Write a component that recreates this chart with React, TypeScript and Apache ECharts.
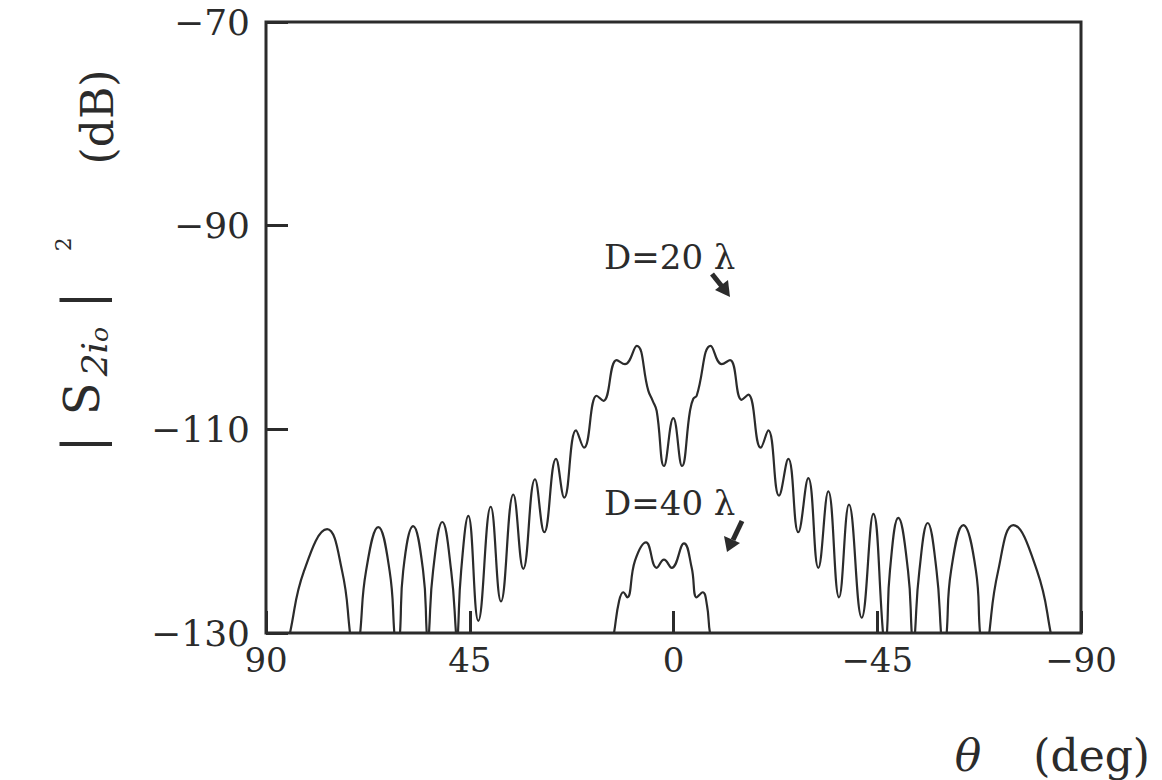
import React, { useEffect, useRef } from 'react';
import * as echarts from 'echarts';

const xTickValues = [90, 45, 0, -45, -90];
const yTickValues = [-70, -90, -110, -130];

// D = 20 lambda curve: angle (deg) and level (dB)
const d20Angle = [
  86.9, 84.7, 81.6, 76.5, 73.2, 71.45, 70.3, 69.2, 67.9, 65.2, 62.7, 61.66, 61.07, 60.4, 59.7, 57.5, 55.3, 54.5,
  54.25, 54.0, 53.1, 51.06, 49.1, 48.04, 47.8, 47.6, 46.9, 45.32, 43.11, 40.37, 38.1, 35.38, 33.17, 30.59, 28.53,
  25.95, 24.12, 21.53, 19.77, 16.96, 15.5, 12.54, 10.71, 8.13, 5.57, 4.59, 3.71, 2.1, 0.04, -1.88, -3.64, -4.37,
  -5.12, -8.22, -10.65, -12.48, -15.06, -16.52, -19.26, -20.94, -23.3, -25.36, -27.56, -29.77, -31.98, -34.19,
  -36.55, -38.76, -41.57, -44.13, -46.27, -46.7, -47.15, -47.8, -49.65, -51.8, -52.61, -52.97, -53.34, -54.3,
  -56.14, -58.1, -59.08, -59.7, -60.34, -61.3, -64.0, -66.8, -67.69, -68.8, -69.75, -71.7, -75.05, -80.3, -83.31,
  -85.0,
];
const d20Level = [
  -135, -130, -123.9, -119.8, -123.9, -130, -135, -130, -123.9, -119.6, -123.9, -130, -134, -130, -123.9, -119.5,
  -123.9, -130, -132, -130, -123.9, -119.1, -123.9, -130, -132, -130, -123.9, -118.5, -128.8, -117.6, -126.9,
  -116.4, -123.7, -114.9, -120.1, -112.9, -116.7, -110.1, -111.8, -106.7, -107.2, -103.2, -103.6, -101.8, -106.2,
  -107.2, -108.2, -113.6, -108.9, -113.6, -108.2, -107.0, -106.7, -101.8, -103.6, -103.2, -107.1, -106.6, -111.8,
  -110.1, -116.5, -112.9, -120.1, -114.8, -123.6, -116.1, -126.5, -117.4, -128.5, -118.3, -130, -132, -130,
  -123.9, -118.7, -123.9, -130, -133, -130, -123.9, -119.2, -123.9, -130, -134, -130, -123.9, -119.4, -123.9,
  -130, -135, -130, -123.9, -119.4, -123.9, -130, -135,
];

// D = 40 lambda curve
const d40Angle = [15.13, 13.14, 12.04, 11.09, 10.2, 8.5, 6.07, 3.71, 2.1, 0.4, -2.32, -4.02, -5.12, -6.45, -7.4, -8.06, -10.3];
const d40Level = [-135, -130, -126.9, -126.0, -126.5, -122.9, -121.1, -123.6, -122.8, -123.6, -121.2, -123.6, -126.5, -126.0, -127.3, -130, -135];

const SERIF = "'DejaVu Serif', 'Liberation Serif', 'Times New Roman', serif";
const INK = '#2b2b2b';

const fmt = (v: number) => (v < 0 ? '\u2212' + Math.abs(v) : String(v));
const zip = (a: number[], b: number[]) => a.map((x, i) => [x, b[i]]);

export default function App() {
  const ref = useRef<HTMLDivElement>(null);
  useEffect(() => {
    const chart = echarts.init(ref.current!, null, { renderer: 'svg' });
    chart.setOption({
      animation: false,
      backgroundColor: '#ffffff',
      grid: {
        left: 266,
        right: 81,
        top: 22,
        bottom: 147,
        show: true,
        borderColor: INK,
        borderWidth: 3,
        backgroundColor: 'transparent',
        outerBoundsMode: 'none',
      },
      xAxis: {
        type: 'value',
        min: -90,
        max: 90,
        interval: 45,
        inverse: true,
        axisLine: { show: false, onZero: false },
        splitLine: { show: false },
        axisTick: { inside: true, length: 22, lineStyle: { color: INK, width: 3 } },
        axisLabel: {
          formatter: (v: number) => (xTickValues.includes(v) ? fmt(v) : ''),
          margin: 10,
          fontFamily: SERIF,
          fontSize: 34,
          color: INK,
        },
      },
      yAxis: {
        type: 'value',
        min: -130,
        max: -70,
        interval: 20,
        axisLine: { show: false, onZero: false },
        splitLine: { show: false },
        axisTick: { inside: true, length: 22, lineStyle: { color: INK, width: 3 } },
        axisLabel: {
          formatter: (v: number) => (yTickValues.includes(v) ? fmt(v) : ''),
          margin: 16,
          fontFamily: SERIF,
          fontSize: 36,
          color: INK,
        },
      },
      series: [
        {
          name: 'D=20λ',
          type: 'line',
          data: zip(d20Angle, d20Level),
          showSymbol: false,
          smooth: 0.45,
          lineStyle: { color: INK, width: 2.2 },
          z: 3,
        },
        {
          name: 'D=40λ',
          type: 'line',
          data: zip(d40Angle, d40Level),
          showSymbol: false,
          smooth: 0.45,
          lineStyle: { color: INK, width: 2.2 },
          z: 3,
        },
      ],
      graphic: [
        {
          type: 'text',
          x: 97,
          y: 117,
          rotation: Math.PI / 2,
          style: { text: '(dB)', fontFamily: SERIF, fontSize: 44, fill: INK, align: 'center', verticalAlign: 'middle' },
        },
        {
          type: 'text',
          x: 82,
          y: 352,
          rotation: Math.PI / 2,
          style: {
            text: '{b||}{s|S}{sub|2i}{subo|o}{b||}{sup|2}',
            align: 'center',
            verticalAlign: 'middle',
            fill: INK,
            rich: {
              b: { fontFamily: SERIF, fontSize: 52, fill: INK, padding: [0, 14], lineHeight: 60 },
              s: { fontFamily: SERIF, fontSize: 48, fill: INK, padding: [0, 6], lineHeight: 60 },
              sub: { fontFamily: SERIF, fontSize: 36, fontStyle: 'italic', fill: INK, verticalAlign: 'bottom', lineHeight: 42 },
              subo: { fontFamily: SERIF, fontSize: 25, fontStyle: 'italic', fill: INK, verticalAlign: 'bottom', lineHeight: 28, padding: [0, 4, 0, 0] },
              sup: { fontFamily: SERIF, fontSize: 22, fill: INK, verticalAlign: 'top', lineHeight: 26, padding: [0, 0, 0, 26] },
            },
          },
        },
        {
          type: 'text',
          x: 1150,
          y: 755,
          style: {
            text: '{i|θ}{n|(deg)}',
            align: 'right',
            verticalAlign: 'middle',
            fill: INK,
            rich: {
              i: { fontFamily: SERIF, fontSize: 44, fontStyle: 'italic', fill: INK, padding: [0, 52, 0, 0], lineHeight: 50 },
              n: { fontFamily: SERIF, fontSize: 44, fill: INK, lineHeight: 50 },
            },
          },
        },
        {
          type: 'text',
          x: 604,
          y: 257,
          style: { text: 'D=20 λ', fontFamily: SERIF, fontSize: 34, fill: INK, align: 'left', verticalAlign: 'middle' },
        },
        {
          type: 'text',
          x: 604,
          y: 503,
          style: { text: 'D=40 λ', fontFamily: SERIF, fontSize: 34, fill: INK, align: 'left', verticalAlign: 'middle' },
        },
        {
          type: 'line',
          shape: { x1: 712, y1: 274, x2: 724, y2: 289 },
          style: { stroke: INK, lineWidth: 5 },
        },
        {
          type: 'polygon',
          shape: { points: [[730, 297], [715, 290], [728, 280]] },
          style: { fill: INK },
        },
        {
          type: 'line',
          shape: { x1: 742, y1: 521, x2: 733, y2: 540 },
          style: { stroke: INK, lineWidth: 5 },
        },
        {
          type: 'polygon',
          shape: { points: [[727, 552], [724, 536], [740, 543]] },
          style: { fill: INK },
        },
      ],
    });
    return () => chart.dispose();
  }, []);
  return (
    <div
      ref={ref}
      style={{ position: 'fixed', left: 0, top: 0, width: 1162, height: 780, background: '#fff' }}
    />
  );
}
